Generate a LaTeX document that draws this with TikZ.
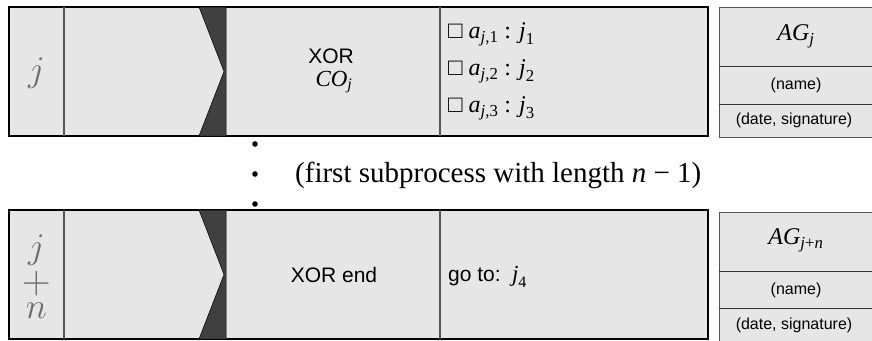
\documentclass[tikz,border=0pt]{standalone}
\usepackage{amsmath}
\usepackage{fontspec}
\setmainfont{Liberation Serif}
\newfontfamily\sansf{Liberation Sans}
\definecolor{cellfill}{HTML}{E6E6E6}
\definecolor{bandfill}{HTML}{404040}
\definecolor{rulegray}{HTML}{555555}
\definecolor{stepgray}{HTML}{6C6C6C}
\newcommand{\iv}[1]{\textrm{\itshape #1}}
\newcommand{\uv}[1]{\textrm{\upshape #1}}
\begin{document}
\begin{tikzpicture}[x=1pt,y=-1pt,
  rowbox/.style={fill=cellfill,draw=black,line width=1.6pt},
  divider/.style={draw=rulegray,line width=1.1pt},
  band/.style={fill=bandfill,draw=black,line width=0.5pt},
  agbox/.style={fill=cellfill,draw=rulegray,line width=0.8pt},
  agrule/.style={draw=black!80,line width=0.8pt},
  stepnum/.style={text=stepgray,font=\fontsize{24.88}{20.7}\selectfont,scale=1.45,anchor=base,inner sep=0pt},
  sanslabel/.style={font=\sansf\fontsize{21}{24}\selectfont,inner sep=0pt},
  serifmath/.style={font=\rmfamily\fontsize{24}{28}\selectfont,inner sep=0pt},
  smalllabel/.style={font=\sansf\fontsize{16}{19}\selectfont,inner sep=0pt},
  gaptext/.style={font=\rmfamily\fontsize{29}{33}\selectfont,inner sep=0pt},
  dotmark/.style={fill=black,draw=none}]
\useasboundingbox (0,0) rectangle (872,340);

% ---------- first step row ----------
\draw[rowbox] (9,7) rectangle (708,136);
\draw[divider] (64,7) -- (64,136);
\draw[divider] (440,7) -- (440,136);
\filldraw[band] (199,7) -- (226,7) -- (226,136) -- (199,136) -- (224,71.5) -- cycle;
\node[stepnum] (s1) at (36.5,81) {$j$};
\node[sanslabel] (x1) at (331,56) {XOR};
\node[serifmath,font=\rmfamily\fontsize{23}{26}\selectfont] (c1) at (334,82) {$\iv{CO}_{\iv{j}}$};
\node[serifmath,anchor=west] (o1) at (448,34.5) {□ $\iv{a}_{\text{\itshape j,\upshape 1}}$ : $\iv{j}_{\uv{1}}$};
\node[serifmath,anchor=west] (o2) at (448,71.5) {□ $\iv{a}_{\text{\itshape j,\upshape 2}}$ : $\iv{j}_{\uv{2}}$};
\node[serifmath,anchor=west] (o3) at (448,108.5) {□ $\iv{a}_{\text{\itshape j,\upshape 3}}$ : $\iv{j}_{\uv{3}}$};

% signature box of the first step
\draw[agbox] (719,7) rectangle (882,137);
\draw[agrule] (719,66) -- (882,66);
\draw[agrule] (719,104) -- (882,104);
\node[serifmath] (ag1) at (796,36) {$\iv{AG}_{\iv{j}}$};
\node[smalllabel] (n1) at (796,85) {(name)};
\node[smalllabel] (d1) at (794,120) {(date, signature)};

% ---------- elided subprocess ----------
\fill[dotmark] (255,144) circle (2.8);
\fill[dotmark] (255,174) circle (2.8);
\fill[dotmark] (255,204) circle (2.8);
\node[gaptext,anchor=west] (gap) at (295,175)
  {(first subprocess with length \textit{n} − 1)};

% ---------- closing step row ----------
\draw[rowbox] (9,210) rectangle (708,339);
\draw[divider] (64,210) -- (64,339);
\draw[divider] (440,210) -- (440,339);
\filldraw[band] (199,210) -- (226,210) -- (226,339) -- (199,339) -- (224,274.5) -- cycle;
\node[stepnum] (s2j) at (36.5,258) {$j$};
\node[stepnum,scale=1.1] (s2p) at (36.5,293) {$+$};
\node[stepnum] (s2n) at (36.5,318) {$n$};
\node[sanslabel] (x2) at (334,275) {XOR end};
\node[sanslabel,anchor=west] (g2) at (448,277) {go to:\, {\rmfamily\fontsize{23}{26}\selectfont$\iv{j}_{\uv{4}}$}};

% signature box of the closing step
\draw[agbox] (719,212) rectangle (882,342);
\draw[agrule] (719,271) -- (882,271);
\draw[agrule] (719,308) -- (882,308);
\node[serifmath] (ag2) at (796,240) {$\iv{AG}_{\text{\itshape j\upshape +\itshape n}}$};
\node[smalllabel] (n2) at (796,290) {(name)};
\node[smalllabel] (d2) at (794,325) {(date, signature)};
\end{tikzpicture}
\end{document}
